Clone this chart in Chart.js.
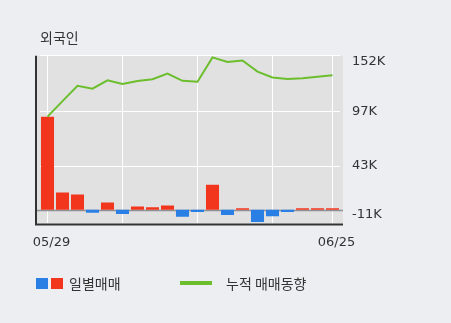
<!DOCTYPE html>
<html>
<head>
<meta charset="utf-8">
<script src="https://cdn.jsdelivr.net/npm/chart.js@4/dist/chart.umd.min.js"></script>
<style>
  body { margin: 0; background: #eceef2; }
  #wrap { position: relative; width: 451px; height: 323px; }
  .legend { position: absolute; top: 274px; font: 14px 'Noto Sans CJK KR', sans-serif; color: #333; line-height: 18px; }
  .sq { position: absolute; top: 4px; width: 12px; height: 11px; }
  .ln { position: absolute; top: 7px; width: 32px; height: 4px; background: #6cbe2d; }
</style>
</head>
<body>
<div id="wrap">
  <canvas id="myChart" width="451" height="323"></canvas>
  <div class="legend" style="left:36px">
    <span class="sq" style="left:0;background:#2a7fe4"></span>
    <span class="sq" style="left:15px;background:#f2361d"></span>
    <span style="position:absolute;left:33px;white-space:nowrap">일별매매</span>
  </div>
  <div class="legend" style="left:180px">
    <span class="ln" style="left:0"></span>
    <span style="position:absolute;left:46px;white-space:nowrap">누적 매매동향</span>
  </div>
</div>
<script>
// data (shares, K = 1000)
var dates = ['05/29', '06/01', '06/02', '06/03', '06/04', '06/05', '06/08', '06/09', '06/10', '06/11',
             '06/12', '06/15', '06/16', '06/17', '06/18', '06/19', '06/22', '06/23', '06/24', '06/25'];
var dailyNet = [91900, 16900, 14900, -3200, 7100, -4200, 3200, 2300, 4200, -7100,
                -2300, 24700, -5200, 1300, -12300, -6500, -2300, 1300, 1300, 1300];
var cumulative = [91900, 107200, 122400, 119500, 127700, 124100, 127000, 128900, 134500, 127300,
                  126300, 150400, 145800, 147400, 136400, 130600, 129200, 129900, 131200, 132800];
var yTicks = [-11000, 43000, 97000, 152000];

var RED = '#f2361d', BLUE = '#2a7fe4', GREEN = '#6cbe2d';
var numFont = "'DejaVu Sans', 'Noto Sans CJK KR', sans-serif";

// plot background, zero line and the dark left/bottom frame
var plotFrame = {
  id: 'plotFrame',
  beforeDraw: function(chart) {
    var ctx = chart.ctx, a = chart.chartArea;
    ctx.save();
    ctx.fillStyle = '#e1e1e1';
    ctx.fillRect(a.left - 3, a.top, a.right - a.left + 6, a.bottom - a.top);
    ctx.restore();
  },
  beforeDatasetsDraw: function(chart) {
    var ctx = chart.ctx, a = chart.chartArea;
    var y0 = Math.round(chart.scales.y.getPixelForValue(0)) + 0.5;
    ctx.save();
    ctx.strokeStyle = '#8e9096';
    ctx.lineWidth = 1.5;
    ctx.beginPath();
    ctx.moveTo(a.left - 3, y0);
    ctx.lineTo(a.right + 3, y0);
    ctx.stroke();
    ctx.strokeStyle = '#333';
    ctx.lineWidth = 2;
    ctx.beginPath();
    ctx.moveTo(a.left - 4, a.top);
    ctx.lineTo(a.left - 4, a.bottom + 1);
    ctx.lineTo(a.right + 3, a.bottom + 1);
    ctx.stroke();
    ctx.restore();
  }
};

var ctx = document.getElementById('myChart').getContext('2d');
var chart = new Chart(ctx, {
  type: 'bar',
  data: {
    labels: dates,
    datasets: [{
      type: 'line',
      label: '누적 매매동향',
      data: cumulative,
      borderColor: GREEN,
      borderWidth: 2,
      pointRadius: 0,
      tension: 0,
      order: 0
    }, {
      label: '일별매매',
      data: dailyNet,
      backgroundColor: dailyNet.map(function(v) { return v < 0 ? BLUE : RED; }),
      barPercentage: 0.87,
      categoryPercentage: 1,
      order: 1
    }]
  },
  options: {
    responsive: false,
    animation: false,
    devicePixelRatio: 1,
    layout: { padding: { left: 40, right: 0, top: 0, bottom: 62 } },
    plugins: {
      legend: { display: false },
      tooltip: { enabled: false },
      title: {
        display: true,
        text: '외국인',
        align: 'start',
        color: '#333',
        font: { family: "'Noto Sans CJK KR', sans-serif", size: 14, weight: 'normal', lineHeight: 1.2 },
        padding: { top: 29, bottom: 10 }
      }
    },
    scales: {
      x: {
        offset: true,
        grid: {
          offset: false,
          drawTicks: false,
          color: function(c) { return (c.index % 5 === 0 || c.index === dates.length - 1) ? '#ffffff' : 'rgba(0,0,0,0)'; },
          lineWidth: 1
        },
        border: { display: false },
        ticks: {
          autoSkip: false,
          maxRotation: 0,
          padding: 11,
          labelOffset: 4,
          color: '#333',
          font: { family: numFont, size: 13 },
          callback: function(v, i) { return (i === 0 || i === dates.length - 1) ? dates[i] : ''; }
        }
      },
      y: {
        position: 'right',
        min: -13600,
        max: 152000,
        afterBuildTicks: function(axis) {
          axis.ticks = yTicks.map(function(v) { return { value: v }; });
        },
        afterFit: function(axis) { axis.width = 111; },
        grid: {
          drawTicks: false,
          color: function(c) { return c.tick && c.tick.value === yTicks[0] ? 'rgba(0,0,0,0)' : '#ffffff'; },
          lineWidth: 1
        },
        border: { display: false },
        ticks: {
          padding: 12,
          color: '#333',
          font: { family: numFont, size: 13, lineHeight: 0.9 },
          callback: function(v) {
            var s = Math.round(v / 1000) + 'K';
            if (v === yTicks[yTicks.length - 1]) return ['', s];
            if (v === yTicks[0]) return [s, ''];
            return s;
          }
        }
      }
    }
  },
  plugins: [plotFrame]
});
</script>
</body>
</html>
